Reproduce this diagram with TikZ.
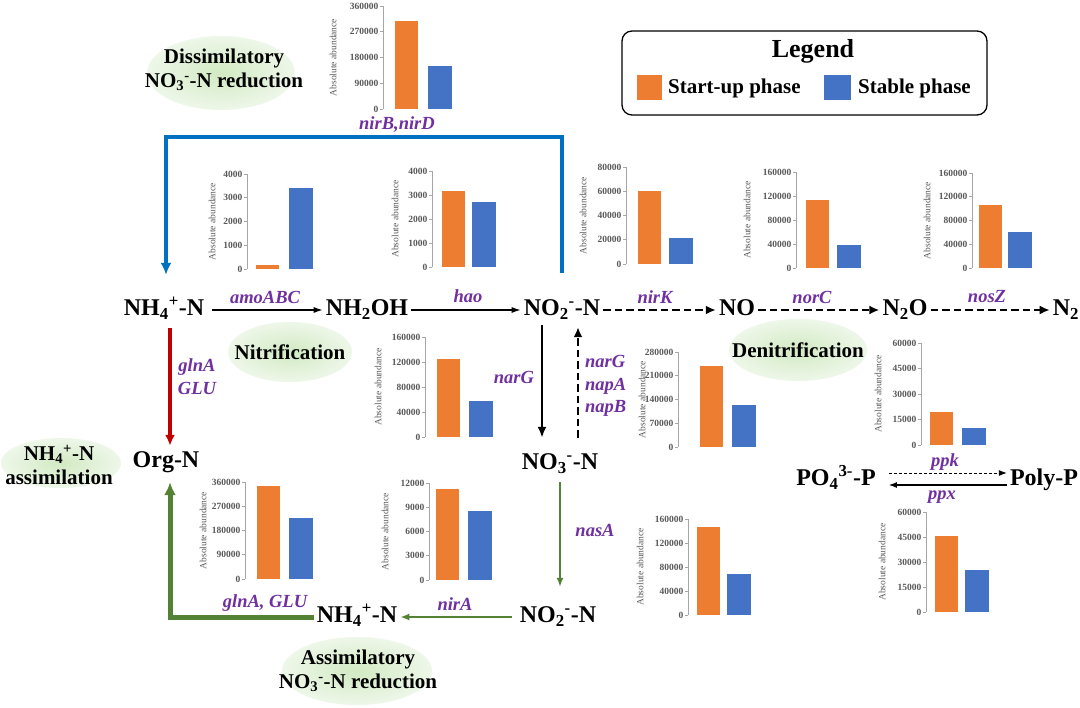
\documentclass[tikz,border=0pt]{standalone}
\usepackage{fontspec}
\setmainfont{Liberation Serif}
\usetikzlibrary{arrows.meta,shapes.geometric}
\definecolor{orng}{HTML}{ED7D31}
\definecolor{blu}{HTML}{4472C4}
\definecolor{purp}{HTML}{7030A0}
\definecolor{linkblue}{HTML}{0070C0}
\definecolor{dred}{HTML}{C00000}
\definecolor{dgreen}{HTML}{548235}
\definecolor{ticktext}{HTML}{595959}
\definecolor{axisgray}{HTML}{A6A6A6}
\definecolor{ellin}{RGB}{210,234,195}
\definecolor{ellout}{RGB}{238,247,233}
\newcommand\abchart[9]{%
  \fill[orng] (#5,#2) rectangle (#5+23,#6);
  \fill[blu] (#7,#2) rectangle (#7+24,#8);
  \draw[axisgray,line width=0.7pt] (#1,#2) -- (#1,#3);
  \foreach \lab [count=\i from 0] in {#4}{%
    \pgfmathsetmacro\ty{#2+(#3-#2)*\i/4}%
    \draw[axisgray,line width=0.7pt] (#1-3,\ty) -- (#1,\ty);
    \node[ticklab] (tl\i) at (#1-4,\ty) {\lab};
  }%
  \node[axlab] (al) at (#9,{(#2+#3)/2}) {Absolute abundance};
}
\tikzset{
  chem/.style={font=\fontsize{24}{28}\selectfont\bfseries, text height=16pt, text depth=4pt, inner sep=3pt},
  gene/.style={font=\fontsize{18.5}{22}\selectfont\bfseries\itshape, text=purp, inner sep=1pt},
  glow/.style={ellipse, shade, inner color=ellin, outer color=ellout, inner sep=0pt},
  phasetxt/.style={font=\fontsize{21}{24}\selectfont\bfseries, align=center, inner sep=0pt},
  ticklab/.style={font=\fontsize{9.5}{10}\selectfont\bfseries, text=ticktext, anchor=east, inner sep=0.5pt},
  axlab/.style={font=\fontsize{9.5}{10}\selectfont, text=ticktext, rotate=90, inner sep=0pt},
  thinarr/.style={line width=1.2pt, -{Latex[length=9pt,width=6pt]}},
  dasharr/.style={line width=2.6pt, dash pattern=on 7.5pt off 4pt, -{Latex[length=10pt,width=9pt]}},
  thickarr/.style={line width=2.8pt, -{Latex[length=11pt,width=9pt]}},
}
\begin{document}
\begin{tikzpicture}[x=1pt,y=-1pt]
\fill[white] (0,0) rectangle (1080,708);
\useasboundingbox (0,0) rectangle (1080,708);

% phase ellipses
\node[glow, minimum width=148pt, minimum height=74pt] (e1) at (221,73) {};
\node[phasetxt] (e1t) at (224,70) {Dissimilatory\\NO\textsubscript{3}\textsuperscript{-}-N reduction};
\node[glow, minimum width=124pt, minimum height=60pt] (e2) at (290,352) {};
\node[phasetxt] (e2t) at (290,352) {Nitrification};
\node[glow, minimum width=138pt, minimum height=62pt] (e3) at (798,350) {};
\node[phasetxt] (e3t) at (798,350) {Denitrification};
\node[glow, minimum width=120pt, minimum height=50pt] (e4) at (61,463) {};
\node[phasetxt] (e4t) at (59,465) {NH\textsubscript{4}\textsuperscript{+}-N\\assimilation};
\node[glow, minimum width=150pt, minimum height=68pt] (e5) at (357,671) {};
\node[phasetxt] (e5t) at (358,671) {Assimilatory\\NO\textsubscript{3}\textsuperscript{-}-N reduction};

% legend
\node[draw, line width=1.3pt, rounded corners=10pt, minimum width=365pt, minimum height=84pt] (legend) at (804.5,73) {};
\node[font=\fontsize{26}{30}\selectfont\bfseries] (legt) at (813,51) {Legend};
\node[fill=orng, minimum width=25pt, minimum height=25pt, inner sep=0pt] (sq1) at (649.5,87.5) {};
\node[font=\fontsize{21}{24}\selectfont\bfseries, anchor=west, inner sep=0pt] (lt1) at (668,88) {Start-up phase};
\node[fill=blu, minimum width=27pt, minimum height=25pt, inner sep=0pt] (sq2) at (837.5,87.5) {};
\node[font=\fontsize{21}{24}\selectfont\bfseries, anchor=west, inner sep=0pt] (lt2) at (858,88) {Stable phase};

% charts
\abchart{383}{109}{6}{0,90000,180000,270000,360000}{395}{21}{428}{66}{333}
\abchart{247}{269}{174}{0,1000,2000,3000,4000}{256}{265}{289}{188}{212}
\abchart{432}{267}{171}{0,1000,2000,3000,4000}{442}{191}{472}{202}{395}
\abchart{626}{264}{167}{0,20000,40000,60000,80000}{638}{191}{669}{238}{583}
\abchart{796}{268}{172}{0,40000,80000,120000,160000}{806}{200}{837}{245}{747}
\abchart{972}{268}{173}{0,40000,80000,120000,160000}{979}{205}{1008}{232}{927}
\abchart{425}{437}{337}{0,40000,80000,120000,160000}{437}{359}{469}{401}{378}
\abchart{678}{447}{352}{0,70000,140000,210000,280000}{700}{366}{732}{405}{642}
\abchart{921}{445}{343}{0,15000,30000,45000,60000}{930}{412}{962}{428}{878}
\abchart{926}{612}{512}{0,15000,30000,45000,60000}{935}{536}{965}{570}{882}
\abchart{245}{579}{482}{0,90000,180000,270000,360000}{257}{486}{289}{518}{203}
\abchart{429}{580}{483}{0,3000,6000,9000,12000}{436}{489}{468}{511}{385}
\abchart{688}{615}{519}{0,40000,80000,120000,160000}{697}{527}{727}{574}{640}

% chemical nodes
\node[chem] (nh4) at (164,310) {NH\textsubscript{4}\textsuperscript{+}-N};
\node[chem] (nh2oh) at (367,310) {NH\textsubscript{2}OH};
\node[chem] (no2) at (562,310) {NO\textsubscript{2}\textsuperscript{-}-N};
\node[chem] (no) at (737,310) {NO};
\node[chem] (n2o) at (905,310) {N\textsubscript{2}O};
\node[chem] (n2) at (1066,310) {N\textsubscript{2}};
\node[chem] (orgn) at (166,462) {Org-N};
\node[chem] (no3) at (560,464) {NO\textsubscript{3}\textsuperscript{-}-N};
\node[chem] (nh4b) at (357,617) {NH\textsubscript{4}\textsuperscript{+}-N};
\node[chem] (no2b) at (558,617) {NO\textsubscript{2}\textsuperscript{-}-N};
\node[chem] (po4) at (836,480) {PO\textsubscript{4}\textsuperscript{3-}-P};
\node[chem] (polyp) at (1044,480) {Poly-P};

% connectors
\coordinate (bs) at ([yshift=24pt]no2.north);
\coordinate (be) at ([xshift=2pt,yshift=22pt]nh4.north);
\draw[linkblue, line width=4pt, -{Latex[length=12pt,width=11pt]}] (bs) -- ++(0,-136) -| (be);
\draw[thinarr, shorten <=5pt] (nh4.east) -- (nh2oh.west);
\draw[thinarr] (nh2oh.east) -- (no2.west);
\draw[dasharr] (no2.east) -- (no.west);
\draw[dasharr] (no.east) -- (n2o.west);
\draw[dasharr] (n2o.east) -- (n2.west);
\draw[dred, line width=3.5pt, -{Latex[length=11pt,width=10pt]}, shorten <=5pt, shorten >=3pt] ([xshift=6pt]nh4.south) -- ([xshift=4pt]orgn.north);
\draw[thickarr, shorten <=2pt, shorten >=13pt] ([xshift=-20pt]no2.south) -- ([xshift=-18pt]no3.north);
\draw[dasharr, shorten <=13pt, shorten >=4pt] ([xshift=18pt]no3.north) -- ([xshift=16pt]no2.south);
\draw[dgreen, line width=1.6pt, -{Latex[length=9pt,width=7pt]}, shorten <=5pt, shorten >=17pt] (no3.south) -- ([xshift=2pt]no2b.north);
\draw[dgreen, line width=1.6pt, -{Latex[length=9pt,width=7pt]}, shorten <=5pt] (no2b.west) -- (nh4b.east);
\draw[dgreen, line width=5pt, -{Latex[length=13pt,width=12pt]}, shorten >=7pt] (nh4b.west) -| ([xshift=4pt]orgn.south);
\draw[line width=0.9pt, dash pattern=on 3pt off 2pt, -{Latex[length=8pt,width=6pt]}, shorten <=10pt] ([yshift=7pt]po4.east) -- ([yshift=7pt]polyp.west);
\draw[line width=1.2pt, -{Latex[length=8pt,width=6pt]}, shorten >=10pt] ([yshift=-5pt]polyp.west) -- ([yshift=-5pt]po4.east);

% gene labels
\node[gene] (g1) at (397,125) {nirB,nirD};
\node[gene] (g2) at (265,297) {amoABC};
\node[gene] (g3) at (468,296) {hao};
\node[gene] (g4) at (655,297) {nirK};
\node[gene] (g5) at (812,297) {norC};
\node[gene] (g6) at (987,297) {nosZ};
\node[gene] (g7) at (514,377) {narG};
\node[gene, align=left, anchor=west, font=\fontsize{18.5}{22.5}\selectfont\bfseries\itshape] (g8) at (584,386) {narG\\napA\\napB};
\node[gene, align=center, font=\fontsize{18.5}{23}\selectfont\bfseries\itshape] (g9) at (197,377) {glnA\\GLU};
\node[gene] (g10) at (595,530) {nasA};
\node[gene] (g11) at (265,603) {glnA, GLU};
\node[gene] (g12) at (455,604) {nirA};
\node[gene] (g13) at (945,462) {ppk};
\node[gene] (g14) at (942,497) {ppx};
\end{tikzpicture}
\end{document}
